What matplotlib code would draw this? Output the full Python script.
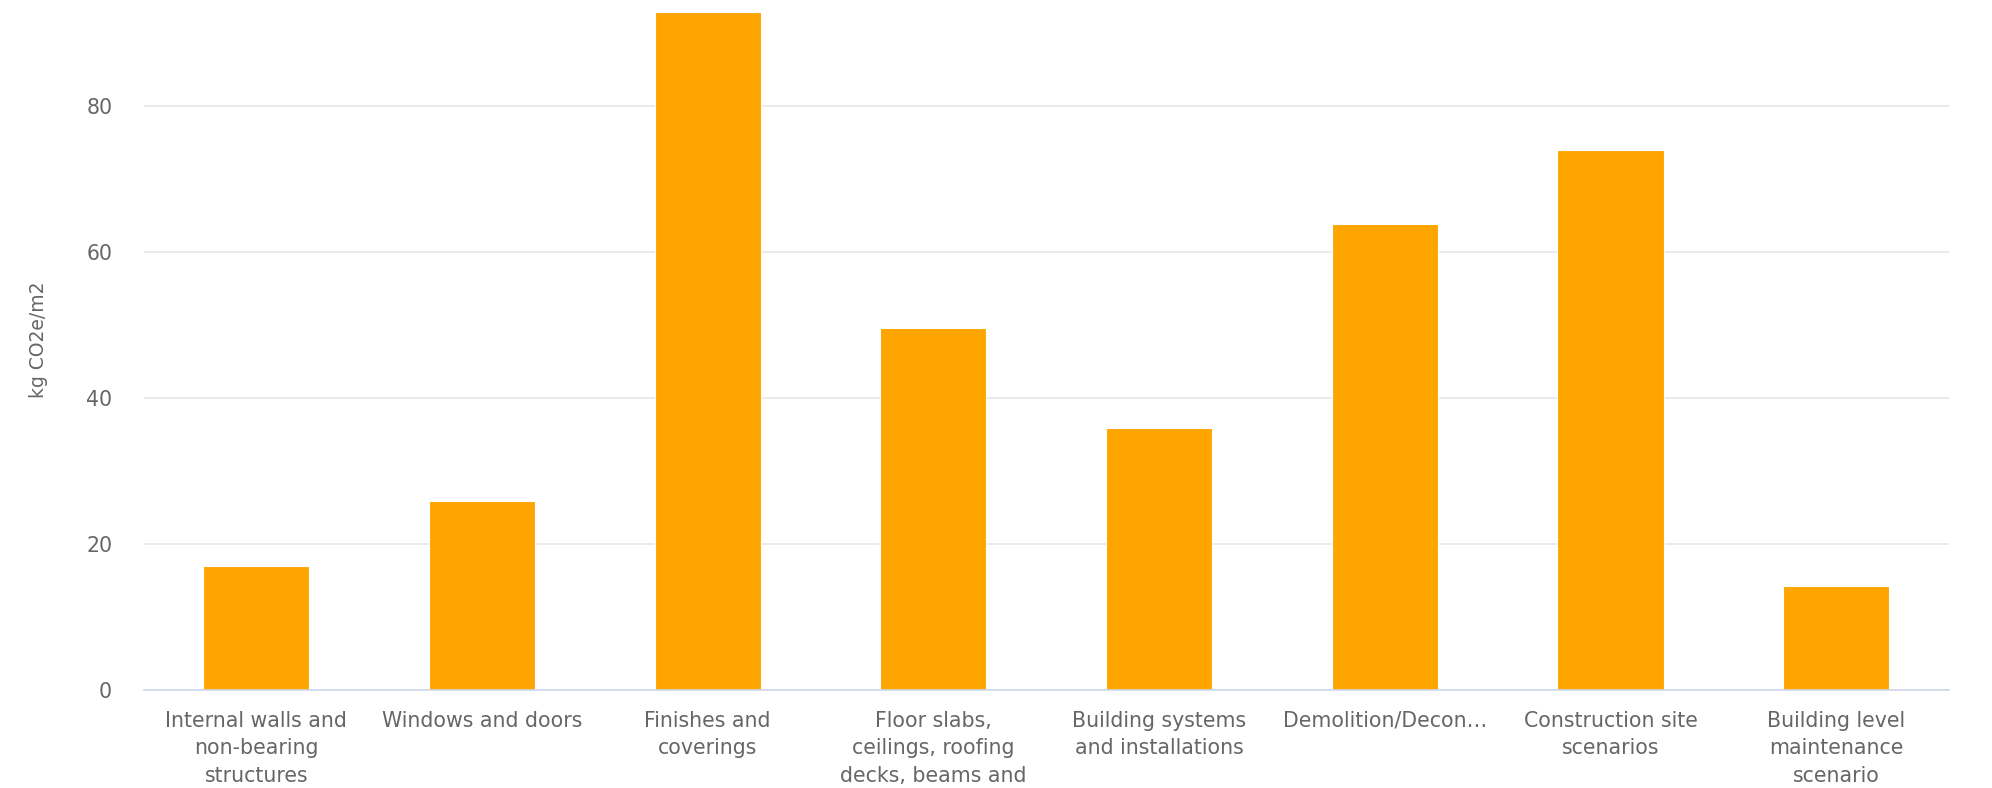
import matplotlib
matplotlib.use("Agg")
import matplotlib.pyplot as plt

categories = [
    "Internal walls and\nnon-bearing\nstructures",
    "Windows and doors",
    "Finishes and\ncoverings",
    "Floor slabs,\nceilings, roofing\ndecks, beams and",
    "Building systems\nand installations",
    "Demolition/Decon…",
    "Construction site\nscenarios",
    "Building level\nmaintenance\nscenario",
]
values = [17.0, 25.9, 92.8, 49.6, 35.8, 63.8, 73.9, 14.3]
yticks = [0, 20, 40, 60, 80]
ylabel = "kg CO2e/m2"

plt.rcParams['font.family'] = ['DejaVu Sans']

fig = plt.figure(figsize=(19.92, 7.88), dpi=100)
ax = fig.add_axes([143.5 / 1992, 1 - 690 / 788, (1949 - 143.5) / 1992, (690 - 12) / 788])

x = list(range(len(categories)))
ax.bar(x, values, width=0.47, color="#ffa500", edgecolor="white", linewidth=0.8, zorder=3)

ax.set_xlim(-0.5, len(categories) - 0.5)
ax.set_ylim(0, max(values))
ax.set_yticks(yticks)
ax.set_xticks(x)
ax.set_xticklabels(categories, fontsize=14.8, color="#666666", linespacing=1.47, va="top")
ax.tick_params(axis="x", length=0, pad=15)
ax.tick_params(axis="y", length=0, pad=22.5, labelsize=14.8, labelcolor="#666666")

ax.grid(axis="y", color="#e6e6e6", linewidth=1.2, zorder=0)
ax.set_axisbelow(True)
for s in ["top", "right", "left"]:
    ax.spines[s].set_visible(False)
ax.spines["bottom"].set_color("#ccd6eb")
ax.spines["bottom"].set_linewidth(1.2)
ax.spines["bottom"].set_zorder(4)

ax.set_ylabel(ylabel, fontsize=13.5, color="#666666")
ax.yaxis.set_label_coords(-(143.5 - 48) / (1949 - 143.5), (690 - 340) / (690 - 12))

fig.savefig("out.png", dpi=100, facecolor="white")
